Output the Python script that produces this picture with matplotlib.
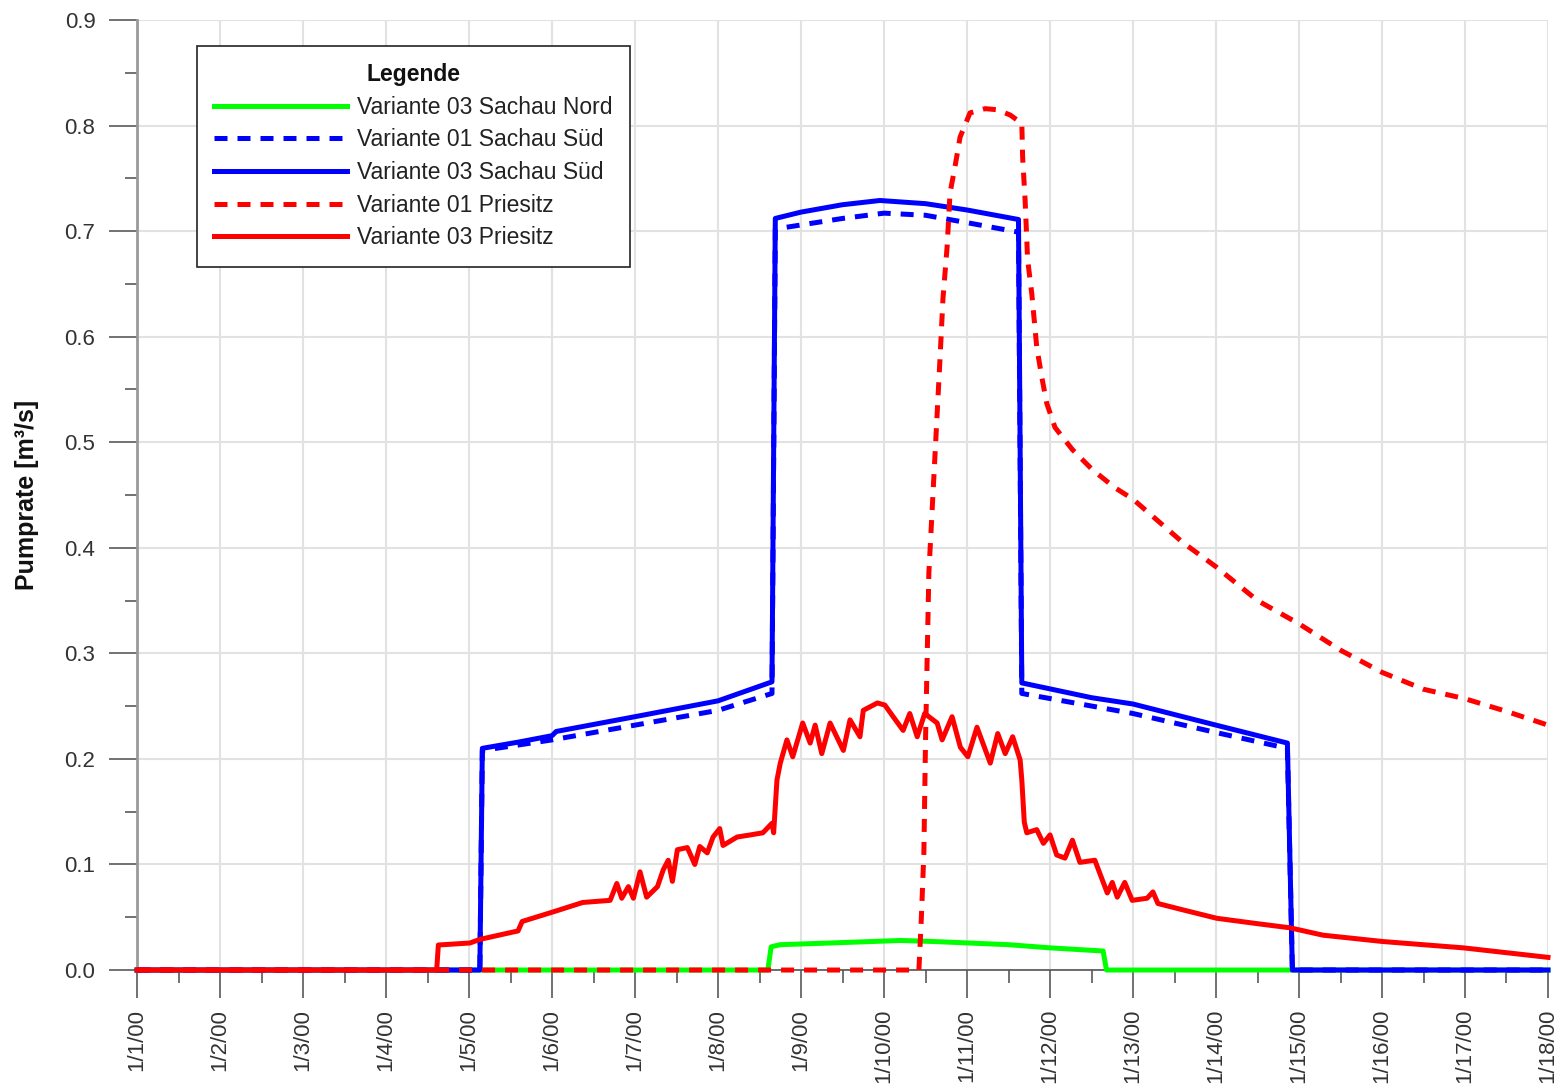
import matplotlib
matplotlib.use("Agg")
import matplotlib.pyplot as plt
from matplotlib.ticker import MultipleLocator

plt.rcParams['font.family'] = ['Liberation Sans', 'DejaVu Sans']

# x in days since 1/1/00
x_tick_labels = ["1/1/00", "1/2/00", "1/3/00", "1/4/00", "1/5/00", "1/6/00",
                 "1/7/00", "1/8/00", "1/9/00", "1/10/00", "1/11/00", "1/12/00",
                 "1/13/00", "1/14/00", "1/15/00", "1/16/00", "1/17/00", "1/18/00"]
y_tick_labels = ["0.0", "0.1", "0.2", "0.3", "0.4", "0.5", "0.6", "0.7", "0.8", "0.9"]

# Variante 03 Sachau Nord (green)
green_t = [0, 7.60, 7.64, 7.75, 8.5, 9.2, 9.6, 10.5, 11.0, 11.64, 11.68, 17]
green_v = [0, 0, 0.022, 0.024, 0.026, 0.028, 0.027, 0.024, 0.021, 0.018, 0, 0]

# Variante 01 Sachau Sued (blue dashed)
b1_t = [0, 4.13, 4.16, 5.0, 6.0, 7.0, 7.65, 7.69, 8.5, 9.0, 9.5, 10.0, 10.62,
        10.66, 12.0, 13.0, 13.86, 13.92, 17]
b1_v = [0, 0, 0.208, 0.218, 0.232, 0.246, 0.262, 0.702, 0.712, 0.717, 0.715,
        0.708, 0.699, 0.262, 0.243, 0.225, 0.210, 0, 0]

# Variante 03 Sachau Sued (blue solid)
b3_t = [0, 4.13, 4.16, 4.6, 5.0, 5.05, 6.0, 7.0, 7.65, 7.69, 8.0, 8.5, 8.95,
        9.5, 10.0, 10.62, 10.66, 11.5, 12.0, 13.0, 13.86, 13.92, 17]
b3_v = [0, 0, 0.210, 0.216, 0.222, 0.226, 0.240, 0.255, 0.273, 0.712, 0.718,
        0.725, 0.729, 0.726, 0.720, 0.711, 0.272, 0.258, 0.252, 0.232, 0.215, 0, 0]

# Variante 01 Priesitz (red dashed)
r1_t = [0, 9.42, 9.45, 9.48, 9.50, 9.54, 9.675, 9.71, 9.76, 9.795, 9.855, 9.916,
        10.036, 10.22, 10.36, 10.52, 10.66, 10.67, 10.70, 10.73, 10.78, 10.84,
        10.90, 10.96, 11.06, 11.27, 11.51, 11.78, 12.0, 12.6, 13.0, 13.5, 14.0,
        14.5, 15.0, 15.5, 16.0, 16.5, 17.0]
r1_v = [0, 0, 0.05, 0.111, 0.218, 0.376, 0.58, 0.636, 0.685, 0.736, 0.761, 0.789,
        0.812, 0.816, 0.815, 0.810, 0.802, 0.770, 0.729, 0.673, 0.641, 0.590,
        0.562, 0.537, 0.514, 0.493, 0.474, 0.457, 0.446, 0.405, 0.382, 0.350, 0.328,
        0.303, 0.282, 0.266, 0.257, 0.245, 0.232]

# Variante 03 Priesitz (red solid)
r3_t = [0, 3.61, 3.63, 4.01, 4.13, 4.53, 4.59, 4.64, 5.01, 5.37, 5.70, 5.78, 5.84,
        5.92, 5.98, 6.06, 6.14, 6.27, 6.34, 6.40, 6.45, 6.51, 6.63, 6.72, 6.78,
        6.87, 6.94, 7.02, 7.06, 7.23, 7.39, 7.54, 7.65, 7.67, 7.71, 7.75, 7.83,
        7.90, 8.02, 8.11, 8.17, 8.25, 8.35, 8.51, 8.59, 8.71, 8.75, 8.92, 9.01,
        9.11, 9.23, 9.31, 9.40, 9.49, 9.64, 9.70, 9.82, 9.92, 10.01, 10.12, 10.28,
        10.37, 10.46, 10.55, 10.64, 10.66, 10.69, 10.72, 10.84, 10.92, 11.0, 11.08,
        11.18, 11.27, 11.36, 11.54, 11.69, 11.75, 11.81, 11.90, 11.99, 12.17,
        12.24, 12.30, 12.60, 13.01, 13.49, 13.89, 14.29, 15.01, 15.98, 17.0]
r3_v = [0, 0, 0.0237, 0.0256, 0.029, 0.036, 0.037, 0.046, 0.055, 0.064, 0.066,
        0.082, 0.068, 0.079, 0.068, 0.093, 0.069, 0.079, 0.095, 0.104, 0.084,
        0.114, 0.116, 0.100, 0.117, 0.111, 0.126, 0.134, 0.118, 0.126, 0.128,
        0.130, 0.139, 0.130, 0.180, 0.196, 0.218, 0.202, 0.234, 0.215, 0.232,
        0.205, 0.234, 0.208, 0.237, 0.221, 0.246, 0.253, 0.251, 0.240, 0.227,
        0.243, 0.221, 0.243, 0.234, 0.218, 0.240, 0.211, 0.202, 0.230, 0.196,
        0.224, 0.205, 0.221, 0.199, 0.180, 0.140, 0.130, 0.133, 0.120, 0.128,
        0.109, 0.106, 0.123, 0.102, 0.104, 0.073, 0.083, 0.069, 0.083, 0.066,
        0.068, 0.074, 0.063, 0.057, 0.049, 0.044, 0.040, 0.033, 0.027, 0.021, 0.012]

labels = ["Variante 03 Sachau Nord", "Variante 01 Sachau Süd", "Variante 03 Sachau Süd",
          "Variante 01 Priesitz", "Variante 03 Priesitz"]

fig = plt.figure(figsize=(15.63, 10.92), dpi=100)
ax = fig.add_axes([0.0877, 0.1117, 0.9027, 0.870])

lw = 3.6
dash = (2.6, 2.0)
common = dict(lw=lw, clip_on=False)
l_g, = ax.plot(green_t, green_v, color="#00ff00", label=labels[0], zorder=3, **common)
l_b1, = ax.plot(b1_t, b1_v, color="#0000ff", ls=(0, dash), label=labels[1], zorder=4, **common)
l_b3, = ax.plot(b3_t, b3_v, color="#0000ff", label=labels[2], zorder=5, **common)
l_r1, = ax.plot(r1_t, r1_v, color="#ff0000", ls=(0, dash), label=labels[3], zorder=6, **common)
l_r3, = ax.plot(r3_t, r3_v, color="#ff0000", label=labels[4], zorder=7, **common)

ax.set_xlim(0, 17)
ax.set_ylim(0, 0.9)
ax.set_xticks(range(len(x_tick_labels)))
ax.set_xticklabels(x_tick_labels, rotation=90)
ax.xaxis.set_minor_locator(MultipleLocator(0.5))
ax.set_yticks([i * 0.1 for i in range(len(y_tick_labels))])
ax.set_yticklabels(y_tick_labels)
ax.yaxis.set_minor_locator(MultipleLocator(0.05))

ax.grid(True, which="major", color="#e2e2e2", lw=1.5, zorder=0)
ax.set_axisbelow(True)
for s in ["top", "right"]:
    ax.spines[s].set_visible(False)
ax.spines["left"].set_color("#9a9a9a")
ax.spines["left"].set_linewidth(2)
ax.spines["bottom"].set_color("#555555")
ax.spines["bottom"].set_linewidth(1.2)

ax.tick_params(axis="both", which="major", direction="out", length=20, width=1.3,
               color="#666666", labelsize=16, labelcolor="#333333")
ax.tick_params(axis="y", which="major", pad=10)
ax.tick_params(axis="x", which="major", pad=8)
ax.tick_params(axis="both", which="minor", direction="out", length=9, width=1.3,
               color="#666666")

ax.set_ylabel("Pumprate [m³/s]", fontsize=18, fontweight="bold", color="#111111", labelpad=18)

leg = ax.legend(handles=[l_g, l_b1, l_b3, l_r1, l_r3], loc="upper left",
                bbox_to_anchor=(0.0425, 0.9726), borderaxespad=0.0, title="Legende",
                title_fontproperties={"weight": "bold", "size": 16.5},
                fontsize=16.5, handlelength=5.8, handletextpad=0.45,
                labelspacing=0.42, borderpad=0.75, fancybox=False,
                edgecolor="#222222", framealpha=1.0)
leg.get_frame().set_linewidth(1.2)
for t in leg.get_texts():
    t.set_color("#222222")
leg.get_title().set_color("#111111")

fig.savefig("out.png", dpi=100)
